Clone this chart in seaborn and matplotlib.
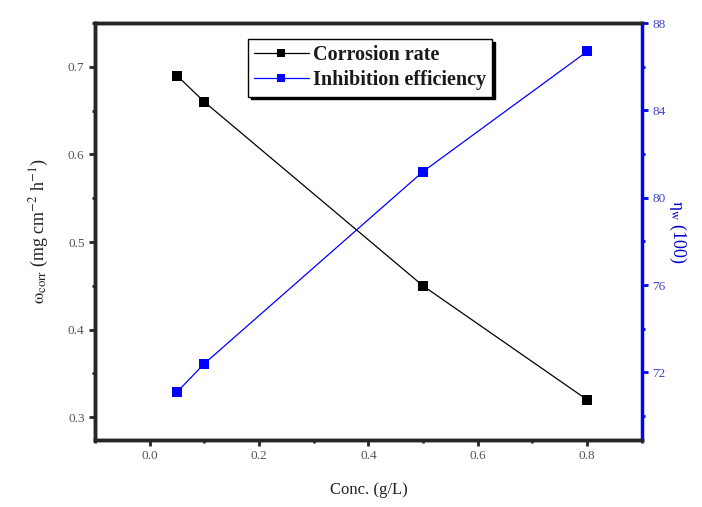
import matplotlib
matplotlib.use("Agg")
import matplotlib.pyplot as plt
import numpy as np
import pandas as pd
import seaborn as sns
from matplotlib.ticker import MultipleLocator

# DATA
conc = [0.05, 0.1, 0.5, 0.8]
corrosion_rate = [0.69, 0.66, 0.45, 0.32]
inhibition_eff = [71.1, 72.4, 81.2, 86.7]

df = pd.DataFrame({'conc': conc, 'rate': corrosion_rate, 'eff': inhibition_eff})

# STYLE
sns.set_style("ticks")
plt.rcParams['font.family'] = ['Liberation Serif', 'DejaVu Serif']
plt.rcParams['mathtext.fontset'] = 'stix'

fig = plt.figure(figsize=(7.02, 5.07), dpi=100)
ax = fig.add_axes([0.1353, 0.132, 0.779, 0.8225])
ax2 = ax.twinx()

# PLOT
sns.lineplot(data=df, x='conc', y='rate', ax=ax, color='black', lw=0.9,
             marker='s', markersize=7, markeredgewidth=0, label='Corrosion rate',
             legend=False)
sns.lineplot(data=df, x='conc', y='eff', ax=ax2, color='#0000ff', lw=0.9,
             marker='s', markersize=7, markeredgewidth=0, label='Inhibition efficiency',
             legend=False)

# AXES
ax.set_xlim(-0.1, 0.9)
ax.set_ylim(0.274, 0.75)
ax2.set_ylim(68.9, 88.0)
ax.xaxis.set_minor_locator(MultipleLocator(0.1))
ax.yaxis.set_major_locator(MultipleLocator(0.1))
ax.yaxis.set_minor_locator(MultipleLocator(0.05))
ax2.yaxis.set_major_locator(MultipleLocator(4))
ax2.yaxis.set_minor_locator(MultipleLocator(2))
ax.set_xticks([0.0, 0.2, 0.4, 0.6, 0.8])
ax.set_xticklabels(['0.0', '0.2', '0.4', '0.6', '0.8'])

for s in ['left', 'bottom', 'top']:
    ax.spines[s].set_linewidth(2.5)
    ax2.spines[s].set_linewidth(2.5)
ax2.spines['right'].set_linewidth(2.5)
ax2.spines['right'].set_color('#0000ff')
ax.spines['right'].set_visible(False)

ax.tick_params(which='major', direction='out', length=4, width=2, labelsize=9.5,
               labelcolor='#555555')
ax.tick_params(which='minor', direction='out', length=2.5, width=2)
ax2.tick_params(which='major', direction='out', length=4, width=2, labelsize=9.5,
                color='#0000ff', labelcolor='#4444cc')
ax2.tick_params(which='minor', direction='out', length=2.5, width=2, color='#0000ff')

ax.set_xlabel('Conc. (g/L)', fontsize=12, labelpad=14, color='#222222')
ax.set_ylabel(r'$\mathrm{\omega_{corr}}$ (mg cm$^{\mathrm{-2}}$ h$^{\mathrm{-1}}$)',
              fontsize=13, labelpad=12, color='#222222')
ax2.set_ylabel(r'$\mathrm{\eta_{w}}$ (100)', fontsize=13, color='#0000cc', rotation=270,
               labelpad=16)

# LEGEND
h1, l1 = ax.get_legend_handles_labels()
h2, l2 = ax2.get_legend_handles_labels()
leg = ax2.legend(h1 + h2, l1 + l2, loc='upper center', bbox_to_anchor=(0.503, 0.985),
                 fancybox=False, shadow={'color': 'black', 'alpha': 1.0}, frameon=True,
                 edgecolor='black', fontsize=14.5, handlelength=2.7, borderpad=0.3,
                 labelspacing=0.25, handletextpad=0.2, markerscale=0.8)
leg.get_frame().set_linewidth(1.0)
for t in leg.get_texts():
    t.set_fontweight('bold')
    t.set_color('#1a1a1a')

fig.savefig('out.png', dpi=100)
